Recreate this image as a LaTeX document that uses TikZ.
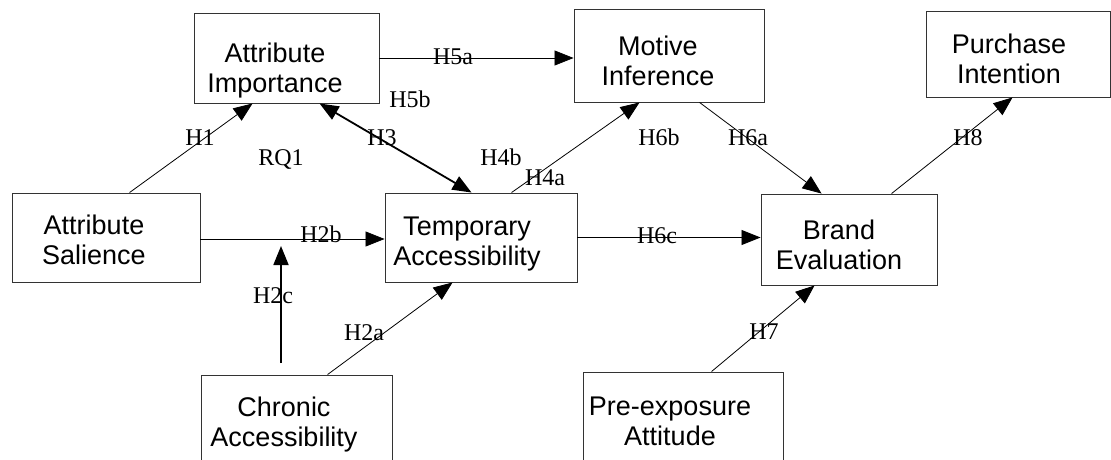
\documentclass[tikz,border=0pt]{standalone}
\usepackage{fontspec}
\setmainfont{Liberation Serif}
\newfontfamily\boxfont{Liberation Sans}
\usetikzlibrary{arrows.meta}
\begin{document}
\begin{tikzpicture}[x=1pt,y=-1pt,
  boxnode/.style={draw=black!80, line width=0.9pt, inner sep=0pt, rectangle},
  boxtext/.style={font=\boxfont\fontsize{27}{30}\selectfont, align=center, inner sep=0pt},
  lab/.style={font=\fontsize{24}{28}\selectfont, inner sep=0pt, anchor=base},
  conn/.style={line width=0.8pt, -{Triangle[length=19pt,width=15pt]}},
  thickconn/.style={line width=1.8pt, -{Triangle[length=19pt,width=15pt]}}]
\clip (0,0) rectangle (1111,460);
\fill[white] (0,0) rectangle (1111,460);
% boxes
\node[boxnode, minimum width=185pt, minimum height=90pt] (ai) at (286.5,58) {};
\node[boxnode, minimum width=188pt, minimum height=89pt] (sal) at (106,237.5) {};
\node[boxnode, minimum width=192pt, minimum height=89pt] (ta) at (481,237.5) {};
\node[boxnode, minimum width=190pt, minimum height=93pt] (mi) at (669,55.5) {};
\node[boxnode, minimum width=184pt, minimum height=86pt] (pi) at (1018,54) {};
\node[boxnode, minimum width=176pt, minimum height=91pt] (be) at (849,239.5) {};
\node[boxnode, minimum width=191pt, minimum height=95pt] (ca) at (296.5,422.5) {};
\node[boxnode, minimum width=200pt, minimum height=98pt] (pa) at (683,421) {};
% box texts
\node[boxtext] (tai) at (275,71) {Attribute\\Importance};
\node[boxtext] (tsal) at (94,240) {Attribute\\Salience};
\node[boxtext] (tmi) at (658,61) {Motive\\Inference};
\node[boxtext] (tta) at (467,244) {Temporary\\Accessibility};
\node[boxtext] (tpi) at (1009,59) {Purchase\\Intention};
\node[boxtext] (tbe) at (839,244.5) {Brand\\Evaluation};
\node[boxtext] (tca) at (284,425) {Chronic\\Accessibility};
\node[boxtext] (tpa) at (670,421) {Pre-exposure\\Attitude};
% connectors
\draw[conn] ([xshift=118pt]sal.north west) -- ([xshift=59pt]ai.south west);
\draw[thickconn, {Triangle[length=19pt,width=15pt]}-{Triangle[length=19pt,width=15pt]}] ([xshift=126pt]ai.south west) -- ([xshift=87pt]ta.north west);
\draw[conn] (ai.east) -- (ai.east -| mi.west);
\draw[conn] ([xshift=127pt]ta.north west) -- ([xshift=66pt]mi.south west);
\draw[conn] ([xshift=126pt]mi.south west) -- ([xshift=61pt]be.north west);
\draw[conn] ([xshift=131pt]be.north west) -- ([xshift=87pt]pi.south west);
\draw[conn] ([yshift=-1.5pt]sal.east) -- ([yshift=-1.5pt]sal.east -| ta.west);
\draw[conn] (ta.east) -- (ta.east -| be.west);
\coordinate (h2cbot) at (281,363);
\coordinate (h2ctop) at (281,246);
\draw[thickconn] (h2cbot) -- (h2ctop);
\draw[conn] ([xshift=127pt]ca.north west) -- ([xshift=68pt]ta.south west);
\draw[conn] ([xshift=129pt]pa.north west) -- ([xshift=54pt]be.south west);
% labels
\node[lab] (lh1) at (200,145) {H1};
\node[lab] (lrq1) at (281,165) {RQ1};
\node[lab] (lh5a) at (453,65) {H5a};
\node[lab] (lh5b) at (410,107) {H5b};
\node[lab] (lh3) at (382,145) {H3};
\node[lab] (lh4b) at (501,165) {H4b};
\node[lab] (lh4a) at (545,185) {H4a};
\node[lab] (lh6b) at (659,145) {H6b};
\node[lab] (lh6a) at (748,145) {H6a};
\node[lab] (lh8) at (968,145) {H8};
\node[lab] (lh2b) at (321,242) {H2b};
\node[lab] (lh6c) at (657,243) {H6c};
\node[lab] (lh2c) at (273,303) {H2c};
\node[lab] (lh2a) at (364,340) {H2a};
\node[lab] (lh7) at (764,339) {H7};
\end{tikzpicture}
\end{document}
